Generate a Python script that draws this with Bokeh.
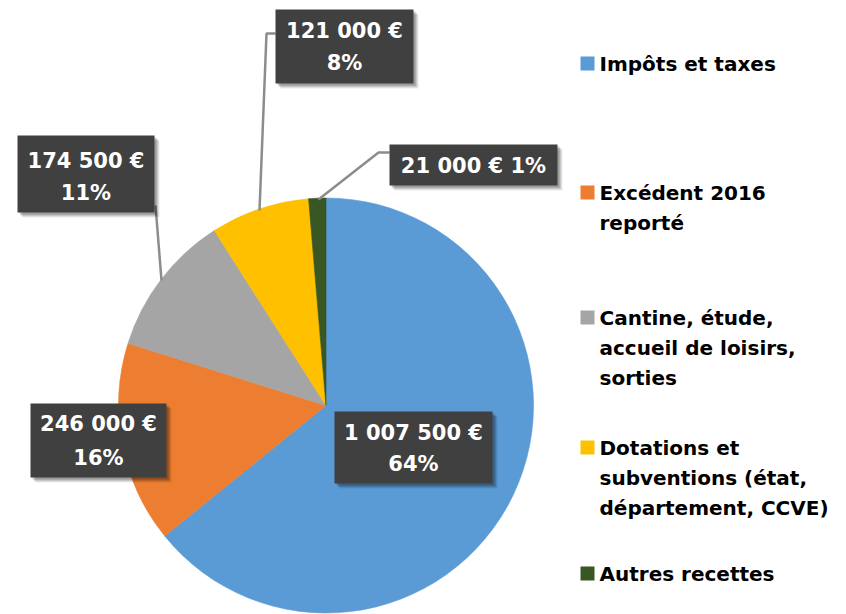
import math
from bokeh.plotting import figure
from bokeh.models import Range1d
from bokeh.embed import file_html
from bokeh.resources import INLINE
from bokeh.core.properties import value

# ---- data ----
categories = ["Impôts et taxes", "Excédent 2016 reporté",
              "Cantine, étude, accueil de loisirs, sorties",
              "Dotations et subventions (état, département, CCVE)",
              "Autres recettes"]
legend_lines = [["Impôts et taxes"],
                ["Excédent 2016", "reporté"],
                ["Cantine, étude,", "accueil de loisirs,", "sorties"],
                ["Dotations et", "subventions (état,", "département, CCVE)"],
                ["Autres recettes"]]
amounts = [1007500, 246000, 174500, 121000, 21000]
colors = ["#5B9BD5", "#ED7D31", "#A5A5A5", "#FFC000", "#385723"]

total = sum(amounts)
def fmt_eur(v):
    s = f"{v:,}".replace(",", " ")
    return s + " €"
pct = [f"{round(v / total * 100)}%" for v in amounts]
eur = [fmt_eur(v) for v in amounts]

# ---- figure (coordinates in screen pixels; Y flips) ----
W, H = 846, 614
def Y(ry):
    return H - ry

p = figure(width=W, height=H, x_range=Range1d(0, W), y_range=Range1d(0, H),
           output_backend="svg", toolbar_location=None, min_border=0)
p.axis.visible = False
p.grid.visible = False
p.outline_line_color = None
p.background_fill_color = "white"

cx, cy, r = 325.5, Y(405), 207.5
start = math.pi / 2
for amt, col in zip(amounts, colors):
    end = start - amt / total * 2 * math.pi
    p.wedge(x=cx, y=cy, radius=r, start_angle=start, end_angle=end, direction="clock",
            fill_color=col, line_color=col, line_width=0.6)
    start = end

# ---- leader lines ----
lc = "#8C8C8C"
p.line([275, 266, 259], [Y(33), Y(33), Y(210)], line_color=lc, line_width=2.5)
p.line([155, 161], [Y(205), Y(280)], line_color=lc, line_width=2.5)
p.line([389, 378, 318], [Y(152), Y(152), Y(199)], line_color=lc, line_width=2.5)

# ---- data label boxes (index -> box, text lines) ----
boxes = {
    3: ((275, 9, 413, 83), [(eur[3], 30), (pct[3], 62)]),
    2: ((17, 135, 154, 212), [(eur[2], 160), (pct[2], 192)]),
    4: ((389, 144, 557, 185), [(eur[4] + " " + pct[4], 165)]),
    1: ((30, 403, 166, 477), [(eur[1], 423), (pct[1], 457)]),
    0: ((334, 411, 492, 483), [(eur[0], 432), (pct[0], 463)]),
}
for i, ((l, t, rr, b), lines) in boxes.items():
    for off, a in ((5, 0.08), (4, 0.1), (3, 0.12), (2, 0.15)):
        p.quad(left=l + off, right=rr + off, top=Y(t + off), bottom=Y(b + off),
               fill_color="black", fill_alpha=a, line_color=None)
    p.quad(left=l, right=rr, top=Y(t), bottom=Y(b), fill_color="#404040", line_color=None)
    p.text(x=[(l + rr) / 2] * len(lines), y=[Y(yy) for _, yy in lines],
           text=[s for s, _ in lines], text_font=value("DejaVu Sans"), text_font_style="bold",
           text_font_size="21px", text_color="white", text_align="center",
           text_baseline="middle")

# ---- legend ----
legend_y = [63, 192, 317, 447, 573]
for lines, col, ly in zip(legend_lines, colors, legend_y):
    p.quad(left=580, right=594, top=Y(ly - 7), bottom=Y(ly + 7), fill_color=col, line_color=None)
    p.text(x=[599] * len(lines), y=[Y(ly + 30 * k) for k in range(len(lines))], text=lines,
           text_font=value("DejaVu Sans"), text_font_style="bold", text_font_size="20px",
           text_color="black", text_align="left", text_baseline="middle")

open("out.html", "w").write(file_html(p, INLINE))
